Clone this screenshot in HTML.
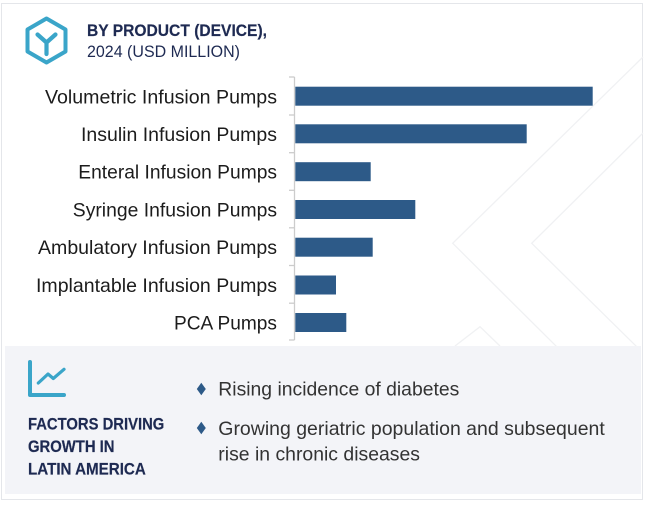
<!DOCTYPE html>
<html>
<head>
<meta charset="utf-8">
<style>
  html, body { margin: 0; padding: 0; background: #ffffff; }
  body { width: 649px; height: 505px; overflow: hidden; }
  svg { display: block; }
  text { font-family: "Liberation Sans", Arial, sans-serif; }
</style>
</head>
<body>
<svg width="649" height="505" viewBox="0 0 649 505" xmlns="http://www.w3.org/2000/svg">
  <!-- outer frame -->
  <rect x="0" y="0" width="649" height="505" fill="#ffffff"/>
  <rect x="1.5" y="3.5" width="641" height="496" fill="#ffffff" stroke="#e4e6ea" stroke-width="1"/>

  <!-- faint background chevrons -->
  <g fill="none" stroke="#f0f1f3" stroke-width="1.3">
    <polyline points="643,57 452.7,243.3 556.7,346.7"/>
    <polyline points="643,133 531.7,243.3 636.7,346.7"/>
    <polyline points="455,346 480,326.7 500,346"/>
  </g>

  <!-- hexagon icon -->
  <polygon points="46.5,18.5 65.5,29.5 65.5,51.5 46.5,62.5 27.5,51.5 27.5,29.5"
           fill="none" stroke="#3aa5c9" stroke-width="4" stroke-linejoin="round"/>
  <path d="M37.5,34.5 L46.5,42.5 L55.5,34.5 M46.5,42.5 V54"
        fill="none" stroke="#3aa5c9" stroke-width="4.2" stroke-linecap="round" stroke-linejoin="round"/>

  <!-- title -->
  <text x="87" y="36" font-size="17" font-weight="bold" fill="#1e2a52" stroke="#1e2a52" stroke-width="0.2" textLength="180" lengthAdjust="spacingAndGlyphs">BY PRODUCT (DEVICE),</text>
  <text x="87" y="57" font-size="16.5" fill="#1e2a52" textLength="153" lengthAdjust="spacingAndGlyphs">2024 (USD MILLION)</text>

  <!-- axis -->
  <g stroke="#cccccc" stroke-width="1.3" fill="none">
    <line x1="294.5" y1="77" x2="294.5" y2="340"/>
    <line x1="289" y1="77" x2="294.5" y2="77"/>
    <line x1="289" y1="115" x2="294.5" y2="115"/>
    <line x1="289" y1="152.7" x2="294.5" y2="152.7"/>
    <line x1="289" y1="190.3" x2="294.5" y2="190.3"/>
    <line x1="289" y1="227.8" x2="294.5" y2="227.8"/>
    <line x1="289" y1="265.5" x2="294.5" y2="265.5"/>
    <line x1="289" y1="303.2" x2="294.5" y2="303.2"/>
    <line x1="289" y1="340" x2="294.5" y2="340"/>
  </g>

  <!-- bars -->
  <g fill="#2d5a88">
    <rect x="295.3" y="86.7" width="297.4" height="19"/>
    <rect x="295.3" y="124.3" width="231.4" height="19"/>
    <rect x="295.3" y="162.2" width="75.4" height="19"/>
    <rect x="295.3" y="200" width="120" height="19"/>
    <rect x="295.3" y="237.7" width="77.4" height="19"/>
    <rect x="295.3" y="275.5" width="40.7" height="19"/>
    <rect x="295.3" y="313" width="51" height="19"/>
  </g>

  <!-- category labels -->
  <g font-size="19.5" fill="#1c1c1c">
    <text x="45" y="103.3" textLength="232" lengthAdjust="spacingAndGlyphs">Volumetric Infusion Pumps</text>
    <text x="81" y="140.9" textLength="196" lengthAdjust="spacingAndGlyphs">Insulin Infusion Pumps</text>
    <text x="78.3" y="178.7" textLength="198.7" lengthAdjust="spacingAndGlyphs">Enteral Infusion Pumps</text>
    <text x="72.8" y="216.5" textLength="204.2" lengthAdjust="spacingAndGlyphs">Syringe Infusion Pumps</text>
    <text x="38" y="254.2" textLength="239" lengthAdjust="spacingAndGlyphs">Ambulatory Infusion Pumps</text>
    <text x="36" y="292" textLength="241" lengthAdjust="spacingAndGlyphs">Implantable Infusion Pumps</text>
    <text x="174" y="329.5" textLength="103" lengthAdjust="spacingAndGlyphs">PCA Pumps</text>
  </g>

  <!-- lower panel -->
  <rect x="5" y="346" width="636" height="148" fill="#f3f4f8"/>

  <!-- chart icon -->
  <path d="M30,362 V395 H64" fill="none" stroke="#3aa5c9" stroke-width="4" stroke-linecap="round" stroke-linejoin="round"/>
  <polyline points="38.3,383 48,374 53.3,378.5 64,369.3" fill="none" stroke="#3aa5c9" stroke-width="3.2" stroke-linecap="round" stroke-linejoin="round"/>

  <!-- factors heading -->
  <g font-size="17" font-weight="bold" fill="#1e2a52" stroke="#1e2a52" stroke-width="0.2">
    <text x="28" y="429.5" textLength="136.3" lengthAdjust="spacingAndGlyphs">FACTORS DRIVING</text>
    <text x="28" y="451.8" textLength="86.5" lengthAdjust="spacingAndGlyphs">GROWTH IN</text>
    <text x="28" y="474.3" textLength="117.8" lengthAdjust="spacingAndGlyphs">LATIN AMERICA</text>
  </g>

  <!-- bullets -->
  <g fill="#2d5a88">
    <polygon points="201.3,382.7 205.8,389 201.3,395.3 196.8,389"/>
    <polygon points="201.3,421.7 205.8,428 201.3,434.3 196.8,428"/>
  </g>
  <g font-size="19.5" fill="#333333">
    <text x="218.3" y="395.7" textLength="241" lengthAdjust="spacingAndGlyphs">Rising incidence of diabetes</text>
    <text x="218.3" y="435" textLength="386.5" lengthAdjust="spacingAndGlyphs">Growing geriatric population and subsequent</text>
    <text x="218.3" y="460.7" textLength="201.7" lengthAdjust="spacingAndGlyphs">rise in chronic diseases</text>
  </g>
</svg>
</body>
</html>
